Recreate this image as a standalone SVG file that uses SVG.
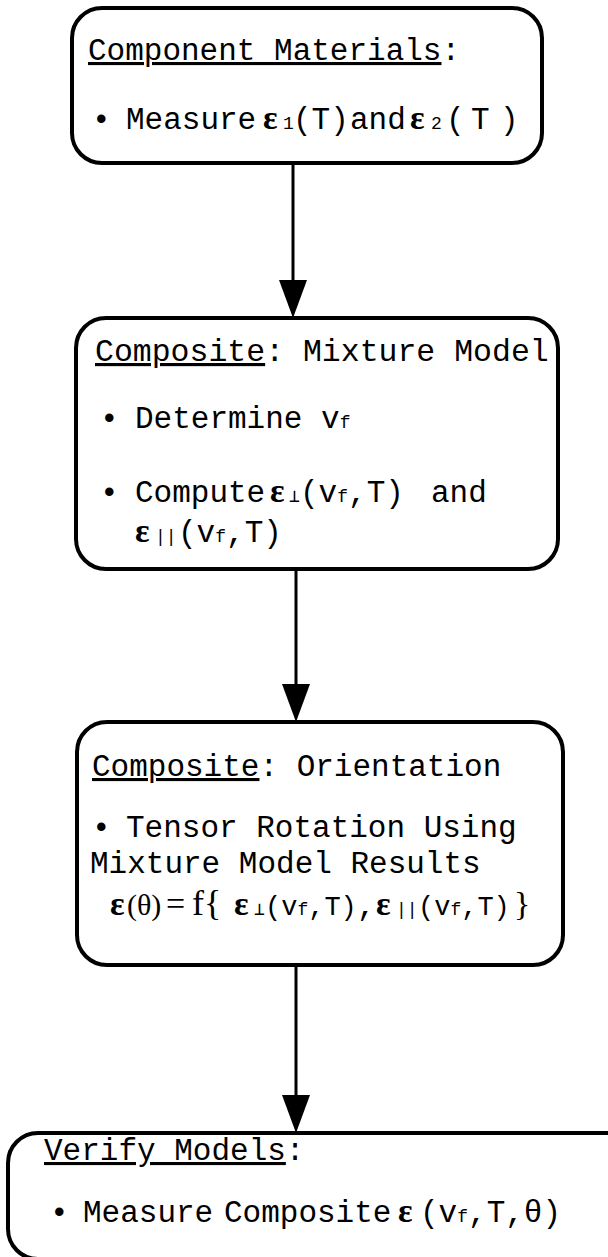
<svg xmlns="http://www.w3.org/2000/svg" width="608" height="1257" viewBox="0 0 608 1257">
<style>
.box{fill:#fff;stroke:#000;stroke-width:4}
.t{font-family:"Liberation Mono",monospace;font-size:31px;fill:#000}
.u{text-decoration:underline}
.e{font-family:"Liberation Serif",serif;font-weight:bold;font-size:34px}
.s{font-family:"Liberation Mono",monospace;font-size:18px}
.r{font-family:"Liberation Serif",serif;font-size:34px}
.m{font-size:27px}
.c{stroke:#000;stroke-width:3;fill:none}
.h{fill:#000}
</style>
<rect width="608" height="1257" fill="#fff"/>
<g id="connectors">
<line class="c" x1="293" y1="163" x2="293" y2="282"/>
<polygon class="h" points="279,280 307,280 293,318"/>
<line class="c" x1="296" y1="569" x2="296" y2="686"/>
<polygon class="h" points="282,684 310,684 296,722"/>
<line class="c" x1="296" y1="965" x2="296" y2="1097"/>
<polygon class="h" points="282,1095 310,1095 296,1133"/>
</g>
<g id="node1">
<rect class="box" x="72" y="8" width="470" height="155" rx="30"/>
<text class="t" x="88" y="60"><tspan class="u">Component Materials</tspan>:</text>
<text class="t" x="92" y="129">•<tspan x="126">Measure</tspan><tspan class="e" x="263">ε</tspan><tspan class="s" x="283">1</tspan><tspan x="293">(T)</tspan><tspan x="350">and</tspan><tspan class="e" x="410">ε</tspan><tspan class="s" x="431">2</tspan><tspan x="446 471 500">(T)</tspan></text>
</g>
<g id="node2">
<rect class="box" x="76" y="318" width="482" height="251" rx="30"/>
<text class="t" x="95" y="361" style="font-size:31.5px"><tspan class="u">Composite</tspan>: Mixture Model</text>
<text class="t" x="100" y="428">•<tspan x="135">Determine v</tspan><tspan class="s">f</tspan></text>
<text class="t" x="100" y="502">•<tspan x="135">Compute</tspan><tspan class="e" x="270">ε</tspan><tspan class="s" x="289">⊥</tspan><tspan x="300">(v</tspan><tspan class="s">f</tspan><tspan>,T)</tspan><tspan x="431">and</tspan></text>
<text class="t" x="135" y="542"><tspan class="e">ε</tspan><tspan class="s" x="155">||</tspan><tspan x="178">(v</tspan><tspan class="s">f</tspan><tspan>,T)</tspan></text>
</g>
<g id="node3">
<rect class="box" x="77" y="722" width="486" height="243" rx="30"/>
<text class="t" x="92" y="776"><tspan class="u">Composite</tspan>: Orientation</text>
<text class="t" x="92" y="837">•<tspan x="126">Tensor Rotation Using</tspan></text>
<text class="t" x="90" y="873">Mixture Model Results</text>
<text class="t" x="110" y="915"><tspan class="e">ε</tspan><tspan class="r" x="127" style="font-size:30px">(θ)</tspan><tspan class="r" x="166">=</tspan><tspan class="r" x="192" style="font-size:36px">f{</tspan><tspan class="e" x="234">ε</tspan><tspan class="s" x="254">⊥</tspan><tspan class="m" x="265">(v</tspan><tspan class="s">f</tspan><tspan class="m">,T)</tspan><tspan x="357">,</tspan><tspan class="e" x="376">ε</tspan><tspan class="s" x="396">||</tspan><tspan class="m" x="418">(v</tspan><tspan class="s">f</tspan><tspan class="m">,T)</tspan><tspan class="r" x="514">}</tspan></text>
</g>
<g id="node4">
<rect class="box" x="8" y="1133" width="640" height="126" rx="30"/>
<text class="t" x="44" y="1160"><tspan class="u">Verify Models</tspan>:</text>
<text class="t" x="50" y="1222">•<tspan x="83">Measure</tspan><tspan x="224">Composite</tspan><tspan class="e" x="398">ε</tspan><tspan x="420">(v</tspan><tspan class="s">f</tspan><tspan>,T,θ)</tspan></text>
</g>
</svg>
